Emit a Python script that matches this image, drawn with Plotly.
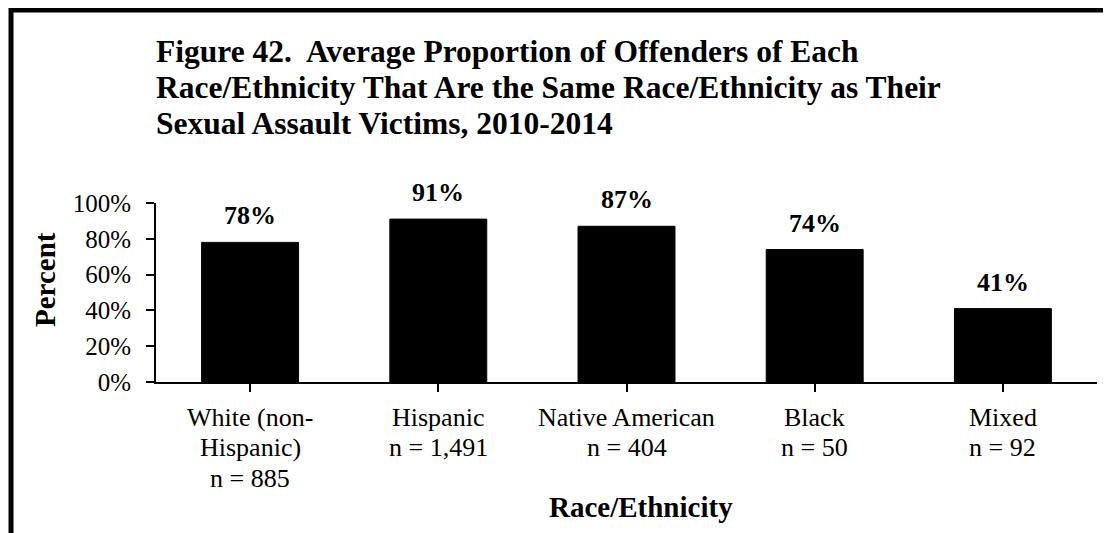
import plotly.graph_objects as go

categories = ["White (non-<br>Hispanic)<br>n = 885", "Hispanic<br>n = 1,491",
              "Native American<br>n = 404", "Black<br>n = 50", "Mixed<br>n = 92"]
values = [78, 91, 87, 74, 41]
value_labels = ["78%", "91%", "87%", "74%", "41%"]
y_ticks = [0, 20, 40, 60, 80, 100]
y_tick_labels = ["0%", "20%", "40%", "60%", "80%", "100%"]
title_lines = ["Figure 42.  Average Proportion of Offenders of Each",
               "Race/Ethnicity That Are the Same Race/Ethnicity as Their",
               "Sexual Assault Victims, 2010-2014"]

FONT = "Liberation Serif"
BLACK = "black"

fig = go.Figure()
fig.add_trace(go.Bar(
    x=list(range(len(categories))), y=values,
    marker=dict(color=BLACK, line=dict(color=BLACK, width=1)),
    width=0.515, hoverinfo="skip",
))

# value labels
for i, (v, t) in enumerate(zip(values, value_labels)):
    fig.add_annotation(x=i, y=v, text="<b>" + t + "</b>", showarrow=False,
                       yanchor="bottom", yshift=10,
                       font=dict(family=FONT, size=26, color=BLACK))

# category labels (one annotation per line for tight line spacing)
for i, cat in enumerate(categories):
    for k, line in enumerate(cat.split("<br>")):
        fig.add_annotation(x=i, y=0, yref="paper", text=line, showarrow=False,
                           xanchor="center", yanchor="middle", yshift=-35 - 30.5 * k,
                           font=dict(family=FONT, size=26, color=BLACK))

# title
for k, line in enumerate(title_lines):
    fig.add_annotation(xref="paper", yref="paper", x=0, y=1, xanchor="left", yanchor="middle",
                       xshift=-2, yshift=152 - 36 * k, showarrow=False,
                       text="<b>" + line + "</b>",
                       font=dict(family=FONT, size=31.5, color=BLACK))

fig.add_annotation(xref="paper", yref="paper", x=0.515, y=0, yshift=-125,
                   xanchor="center", yanchor="middle", showarrow=False,
                   text="<b>Race/Ethnicity</b>",
                   font=dict(family=FONT, size=29, color=BLACK))

fig.add_annotation(xref="paper", yref="paper", x=0, y=0.57, xshift=-111,
                   xanchor="center", yanchor="middle", showarrow=False, textangle=-90,
                   text="<b>Percent</b>",
                   font=dict(family=FONT, size=29, color=BLACK))

# outer frame (extends past right and bottom edges)
fig.add_shape(type="rect", xref="paper", yref="paper",
              x0=(3 - 148) / 941, x1=(1115 - 148) / 941,
              y0=(374 - 560) / 179, y1=(374 - 2) / 179,
              line=dict(color=BLACK, width=5), fillcolor="rgba(0,0,0,0)", layer="above")

fig.update_layout(
    width=1103, height=525,
    margin=dict(l=148, r=14, t=195, b=151, autoexpand=False),
    plot_bgcolor="white", paper_bgcolor="white",
    showlegend=False,
    font=dict(family=FONT, color=BLACK),
)
fig.update_xaxes(
    tickmode="array", tickvals=list(range(len(categories))), showticklabels=False,
    range=[-0.5, 4.5], showline=True, linecolor=BLACK, linewidth=2,
    ticks="outside", tickson="boundaries", ticklen=8, tickwidth=2, tickcolor=BLACK,
    showgrid=False, zeroline=False,
)
fig.update_yaxes(
    tickmode="array", tickvals=y_ticks, ticktext=y_tick_labels, range=[0, 100],
    showline=True, linecolor=BLACK, linewidth=2,
    ticks="outside", ticklen=8, tickwidth=2, tickcolor=BLACK,
    tickfont=dict(family=FONT, size=25, color=BLACK), showgrid=False, zeroline=False,
    ticklabelstandoff=10,
)

fig.write_html("out.html")
